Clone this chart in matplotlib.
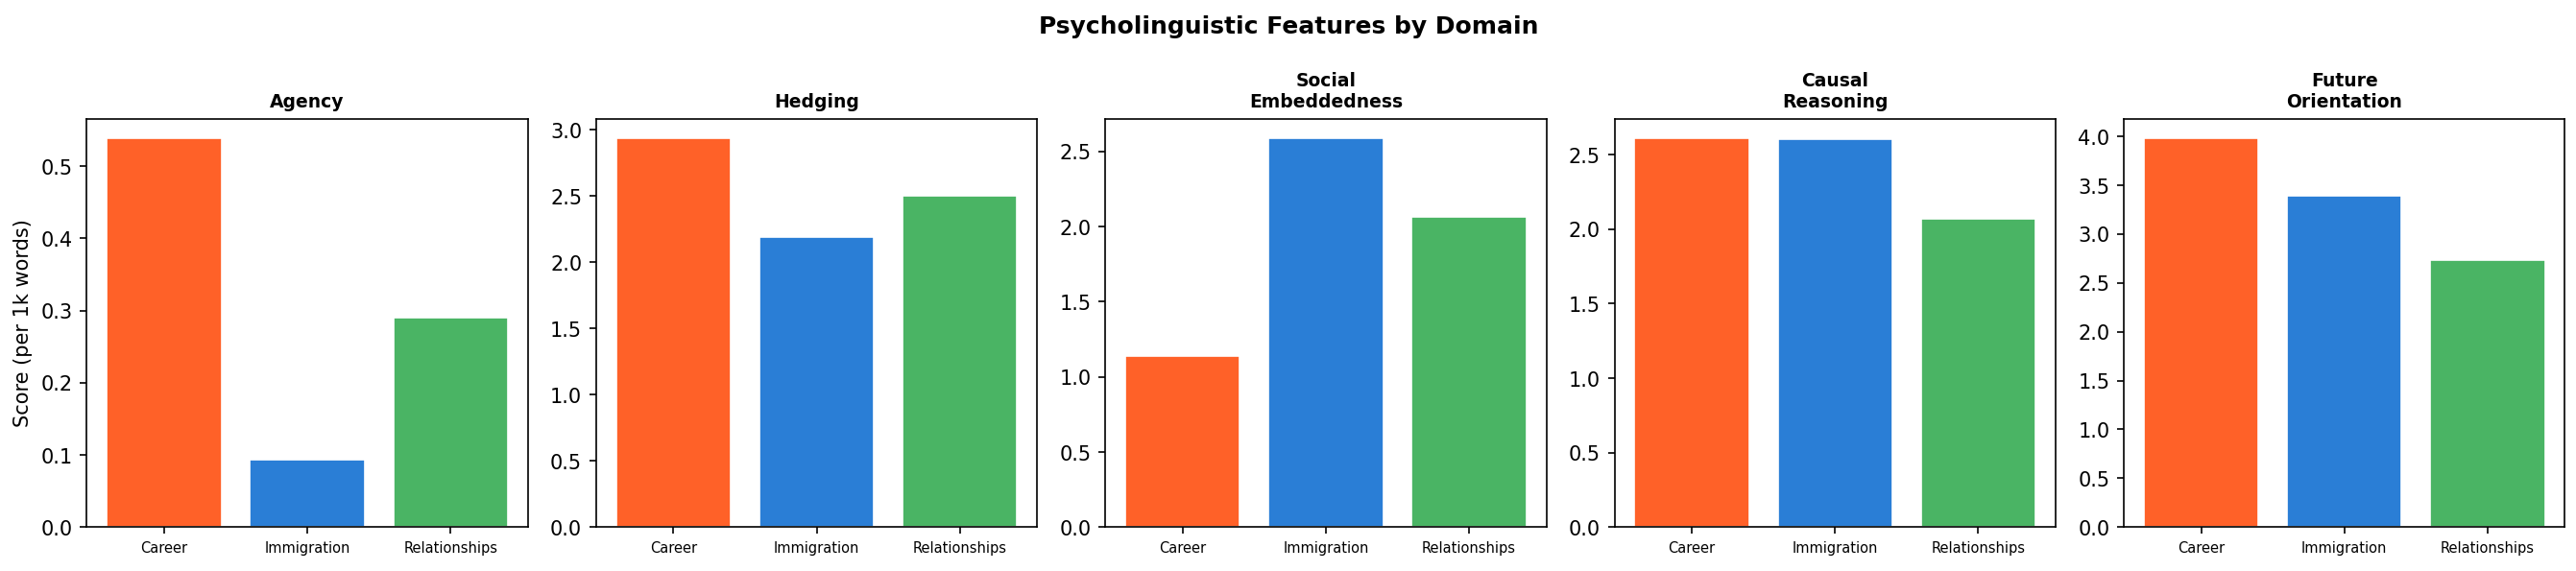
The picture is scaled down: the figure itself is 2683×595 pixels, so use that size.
import numpy as np
import matplotlib
matplotlib.use("Agg")
import matplotlib.pyplot as plt

domains = ["Career", "Immigration", "Relationships"]
features = ["Agency", "Hedging", "Social\nEmbeddedness", "Causal\nReasoning", "Future\nOrientation"]
colors = ["#FF6128", "#2A7ED6", "#4AB464"]

# scores per 1k words, one list per feature (Career, Immigration, Relationships)
agency = [0.539, 0.094, 0.290]
hedging = [2.937, 2.187, 2.500]
social = [1.141, 2.590, 2.064]
causal = [2.612, 2.604, 2.067]
future = [3.983, 3.395, 2.738]

scores = [agency, hedging, social, causal, future]

fig, axes = plt.subplots(1, 5, figsize=(17.89, 3.97), dpi=150)

for ax, name, vals in zip(axes, features, scores):
    x = np.arange(len(domains))
    ax.bar(x, vals, color=colors, edgecolor="white", linewidth=0.8)
    ax.set_xticks(x)
    ax.set_xticklabels(domains, fontsize=7)
    ax.set_title(name, fontsize=9, fontweight="bold")

axes[0].set_ylabel("Score (per 1k words)")

fig.suptitle("Psycholinguistic Features by Domain", fontsize=12, fontweight="bold", y=0.973)
fig.subplots_adjust(left=0.0337, right=0.9955, top=0.7916, bottom=0.0768, wspace=0.1545)
plt.savefig("out.png", dpi=150)
